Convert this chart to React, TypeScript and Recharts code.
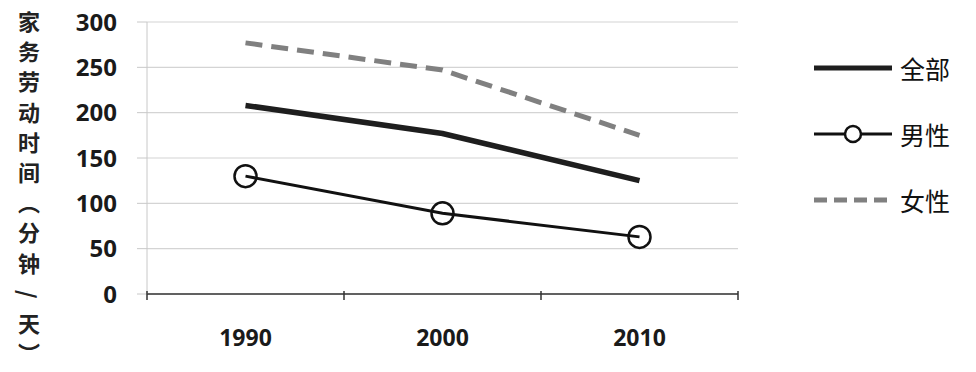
import React from 'react';
import { LineChart, Line, XAxis, YAxis, CartesianGrid } from 'recharts';

const years = ['1990', '2000', '2010'];
const allValues = [208, 177, 125];
const maleValues = [130, 89, 63];
const femaleValues = [277, 247, 175];
const yTicks = [0, 50, 100, 150, 200, 250, 300];
const yTitle = '家务劳动时间（分钟/天）';

const data = years.map((year, i) => ({
  year,
  all: allValues[i],
  male: maleValues[i],
  female: femaleValues[i],
}));

const cjk = '"Noto Sans CJK SC", "Noto Sans", sans-serif';
const digits = '"Open Sans", "Noto Sans", sans-serif';

const W = 976;
const H = 372;
const margin = { top: 22, right: 238, bottom: 8, left: 0 };
const yAxisWidth = 147;
const band = (W - margin.right - margin.left - yAxisWidth) / years.length;

const legendItems = [
  { key: 'all', label: '全部', stroke: '#1e1e1e', width: 5, dash: undefined, dot: false },
  { key: 'male', label: '男性', stroke: '#111', width: 3, dash: undefined, dot: true },
  { key: 'female', label: '女性', stroke: '#808080', width: 5, dash: '13 7', dot: false },
];

// category label plus the tick marks at the band edges, like the original
const YearTick = (props: any) => {
  const { x, y, payload, index } = props;
  const half = band / 2;
  const top = y - 3;
  return (
    <g>
      <line x1={x - half} y1={top} x2={x - half} y2={top + 9} stroke="#333" strokeWidth={1.5} />
      {index === years.length - 1 && (
        <line x1={x + half} y1={top} x2={x + half} y2={top + 9} stroke="#333" strokeWidth={1.5} />
      )}
      <text
        x={x}
        y={y + 52}
        textAnchor="middle"
        fontFamily={digits}
        fontWeight={700}
        fontSize={23}
        fill="#1a1a1a"
      >
        {payload.value}
      </text>
    </g>
  );
};

const LegendBox = () => (
  <div style={{ position: 'absolute', left: 812, top: 50, display: 'flex', flexDirection: 'column', gap: 30 }}>
    {legendItems.map((item) => (
      <div key={item.key} style={{ display: 'flex', alignItems: 'center', height: 36 }}>
        <svg width={82} height={30}>
          <line
            x1={2}
            y1={15}
            x2={80}
            y2={15}
            stroke={item.stroke}
            strokeWidth={item.width}
            strokeDasharray={item.dash}
          />
          {item.dot && <circle cx={41} cy={15} r={8} fill="white" stroke={item.stroke} strokeWidth={2.5} />}
        </svg>
        <span style={{ fontFamily: cjk, fontSize: 25, color: '#111', marginLeft: 6 }}>{item.label}</span>
      </div>
    ))}
  </div>
);

// stacked title, one character per cell so it fits the page height
const YTitle = () => (
  <div style={{ position: 'absolute', left: 14, top: 7, display: 'flex', flexDirection: 'column' }}>
    {Array.from(yTitle).map((ch, i) => (
      <span
        key={i}
        style={{
          height: 30.2,
          width: 30,
          display: 'flex',
          alignItems: 'center',
          justifyContent: 'center',
          writingMode: 'vertical-rl',
          fontFamily: cjk,
          fontWeight: 700,
          fontSize: 22,
          lineHeight: '30px',
          color: '#222',
        }}
      >
        {ch}
      </span>
    ))}
  </div>
);

export default function App() {
  return (
    <div style={{ position: 'absolute', left: 0, top: 0, width: W, height: H, background: '#fff' }}>
      <YTitle />
      <LineChart width={W} height={H} data={data} margin={margin}>
        <CartesianGrid vertical={false} stroke="#d4d4d4" strokeWidth={1.2} />
        <XAxis
          dataKey="year"
          height={70}
          padding={{ left: band / 2, right: band / 2 }}
          stroke="#333"
          strokeWidth={1.5}
          tickLine={false}
          tickSize={0}
          tickMargin={0}
          interval={0}
          tick={<YearTick />}
        />
        <YAxis
          domain={[0, 300]}
          ticks={yTicks}
          interval={0}
          width={yAxisWidth}
          tickSize={10}
          tickMargin={20}
          stroke="#c8c8c8"
          tick={{ fontFamily: digits, fontWeight: 700, fontSize: 24, fill: '#1a1a1a' }}
        />
        <Line dataKey="female" stroke="#808080" strokeWidth={5} strokeDasharray="17 9" dot={false} isAnimationActive={false} />
        <Line dataKey="all" stroke="#1e1e1e" strokeWidth={5.5} dot={false} isAnimationActive={false} />
        <Line
          dataKey="male"
          stroke="#111"
          strokeWidth={3}
          dot={{ r: 11, fill: 'none', stroke: '#111', strokeWidth: 2.5 }}
          isAnimationActive={false}
        />
      </LineChart>
      <LegendBox />
    </div>
  );
}
